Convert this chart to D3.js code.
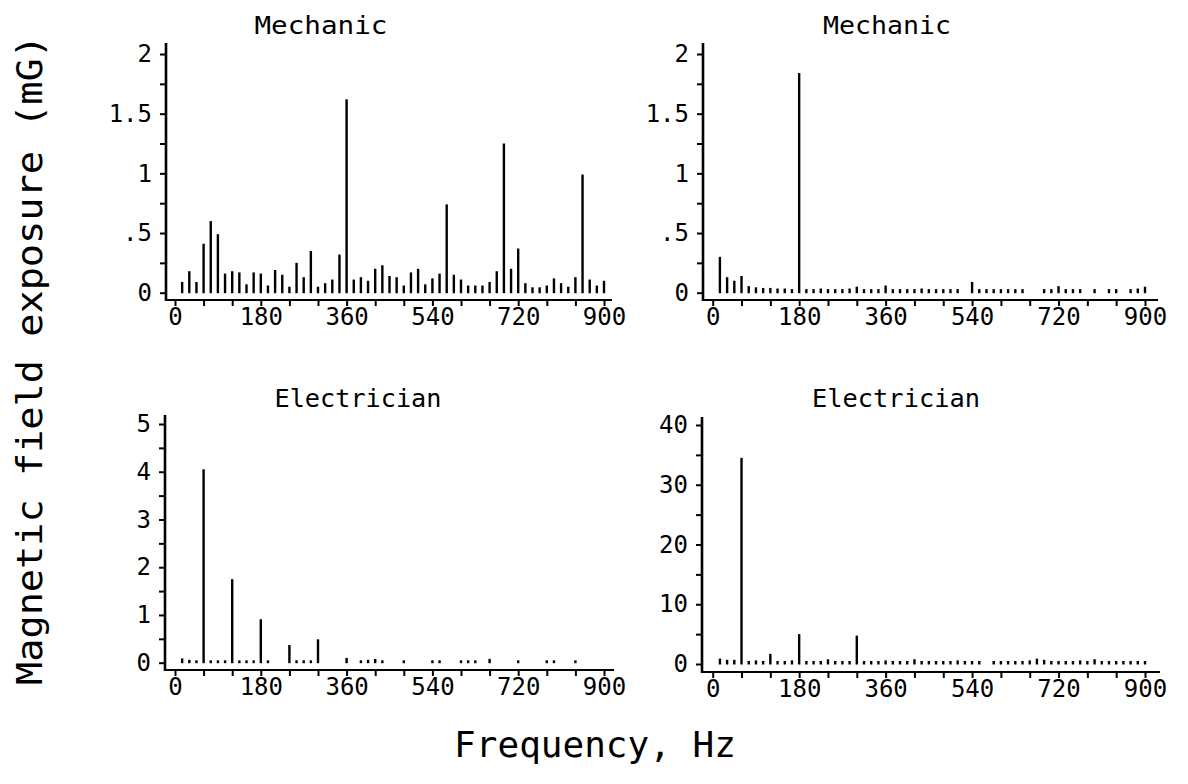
<!DOCTYPE html>
<html><head><meta charset="utf-8">
<script src="https://cdn.jsdelivr.net/npm/d3@7"></script>
<style>
html,body{margin:0;padding:0;background:#fff;}
svg text{font-family:"DejaVu Sans Mono",monospace;fill:#000;}
</style></head><body>
<svg id="c" width="1188" height="784"></svg>
<script>
// ---------------- DATA ----------------
const mechanicA_freq = [15,30,45,60,75,90,105,120,135,150,165,180,195,210,225,240,255,270,285,300,
  315,330,345,360,375,390,405,420,435,450,465,480,495,510,525,540,555,570,585,600,
  615,630,645,660,675,690,705,720,735,750,765,780,795,810,825,840,855,870,885,900];
const mechanicA_val = [0.09,0.18,0.09,0.41,0.60,0.49,0.16,0.18,0.17,0.07,0.17,0.16,0.06,0.19,0.15,0.05,0.25,0.13,0.35,0.05,
  0.08,0.11,0.32,1.62,0.11,0.13,0.10,0.20,0.23,0.14,0.13,0.06,0.17,0.20,0.07,0.12,0.16,0.74,0.15,0.11,
  0.06,0.06,0.06,0.09,0.18,1.25,0.20,0.37,0.08,0.045,0.045,0.06,0.12,0.08,0.05,0.13,0.99,0.11,0.06,0.10];

const mechanicB_freq = [15,30,45,60,75,90,105,120,135,150,165,180,195,210,225,240,255,270,285,300,
  315,330,345,360,375,390,405,420,435,450,465,480,495,510,540,555,570,585,600,615,630,645,
  690,705,720,735,750,765,795,825,840,870,885,900];
const mechanicB_val = [0.30,0.13,0.10,0.14,0.055,0.045,0.04,0.04,0.035,0.035,0.03,1.84,0.03,0.03,0.035,0.03,0.03,0.03,0.035,0.05,
  0.03,0.03,0.03,0.06,0.03,0.03,0.03,0.03,0.035,0.03,0.03,0.03,0.03,0.03,0.09,0.03,0.03,0.03,0.03,0.03,0.03,0.03,
  0.03,0.03,0.055,0.03,0.03,0.03,0.03,0.03,0.03,0.03,0.035,0.05];

const electricianA_freq = [15,30,45,60,75,90,105,120,135,150,165,180,195,240,255,270,285,300,360,390,405,420,435,
  480,540,555,600,615,630,660,720,780,795,840];
const electricianA_val = [0.09,0.06,0.05,4.05,0.05,0.05,0.05,1.75,0.05,0.05,0.05,0.91,0.05,0.37,0.05,0.05,0.05,0.49,0.10,0.05,0.06,0.08,0.05,
  0.05,0.05,0.05,0.05,0.05,0.05,0.08,0.05,0.05,0.05,0.05];

const electricianB_freq = [15,30,45,60,75,90,105,120,135,150,165,180,195,210,225,240,255,270,285,300,
  315,330,345,360,375,390,405,420,435,450,465,480,495,510,525,540,555,585,600,
  615,630,645,660,675,690,705,720,735,750,765,780,795,810,825,840,855,870,885,900];
const electricianB_val = [0.9,0.7,0.7,34.5,0.5,0.6,0.5,1.7,0.5,0.5,0.6,5.0,0.5,0.5,0.5,0.8,0.5,0.5,0.5,4.75,
  0.5,0.5,0.5,0.6,0.5,0.5,0.5,0.8,0.5,0.5,0.5,0.5,0.5,0.6,0.5,0.5,0.5,0.5,0.5,
  0.5,0.5,0.5,0.6,0.9,0.7,0.5,0.5,0.5,0.5,0.6,0.5,0.8,0.5,0.5,0.5,0.5,0.5,0.5,0.5];

const xTicks = [0,60,120,180,240,300,360,420,480,540,600,660,720,780,840,900];
const xTickLabels = {0:"0",180:"180",360:"360",540:"540",720:"720",900:"900"};

const yTicksMech = [0,0.25,0.5,0.75,1,1.25,1.5,1.75,2];
const yLabelsMech = {0:"0",0.5:".5",1:"1",1.5:"1.5",2:"2"};
const yTicksElecA = [0,0.5,1,1.5,2,2.5,3,3.5,4,4.5,5];
const yLabelsElecA = {0:"0",1:"1",2:"2",3:"3",4:"4",5:"5"};
const yTicksElecB = [0,5,10,15,20,25,30,35,40];
const yLabelsElecB = {0:"0",10:"10",20:"20",30:"30",40:"40"};

const titles = ["Mechanic","Mechanic","Electrician","Electrician"];
const xAxisTitle = "Frequency, Hz";
const yAxisTitle = "Magnetic field exposure (mG)";

// ---------------- LAYOUT ----------------
const panels = [
  {title:titles[0], freq:mechanicA_freq, val:mechanicA_val, yMax:2, yTicks:yTicksMech, yLabels:yLabelsMech,
   xr:[175,604], yr:[292.7,54], axisX:166, axisTop:43, base:300, right:612, tx:321, ty:34, tl:133},
  {title:titles[1], freq:mechanicB_freq, val:mechanicB_val, yMax:2, yTicks:yTicksMech, yLabels:yLabelsMech,
   xr:[712.7,1145], yr:[292.7,54], axisX:703, axisTop:43, base:300, right:1158, tx:887, ty:34, tl:128},
  {title:titles[2], freq:electricianA_freq, val:electricianA_val, yMax:5, yTicks:yTicksElecA, yLabels:yLabelsElecA,
   xr:[175,604], yr:[662.7,424], axisX:165, axisTop:415, base:670, right:614, tx:358, ty:407, tl:167},
  {title:titles[3], freq:electricianB_freq, val:electricianB_val, yMax:40, yTicks:yTicksElecB, yLabels:yLabelsElecB,
   xr:[712.7,1145], yr:[664,425], axisX:702, axisTop:417, base:672, right:1160, tx:896, ty:407, tl:168}
];

const svg = d3.select("#c");

panels.forEach(p => {
  const x = d3.scaleLinear().domain([0,900]).range(p.xr);
  const y = d3.scaleLinear().domain([0,p.yMax]).range(p.yr);
  const g = svg.append("g");

  // bars
  g.selectAll("line.bar").data(p.freq.map((f,i)=>({f, v:p.val[i]}))).join("line")
    .attr("class","bar")
    .attr("x1", d=>x(d.f)).attr("x2", d=>x(d.f))
    .attr("y1", y(0)+0.5).attr("y2", d=>y(d.v))
    .attr("stroke","#000").attr("stroke-width",2.4);

  // x axis
  const xa = g.append("g").attr("transform",`translate(0,${p.base})`)
    .call(d3.axisBottom(x).tickValues(xTicks).tickSize(6).tickPadding(2)
      .tickFormat(d => xTickLabels[d] !== undefined ? xTickLabels[d] : ""));
  xa.select(".domain").remove();
  xa.selectAll("line").attr("stroke","#000").attr("stroke-width",2);
  xa.selectAll("text").attr("font-size",24).attr("font-family","DejaVu Sans Mono").attr("fill","#000");
  g.append("line").attr("x1",p.axisX).attr("x2",p.right).attr("y1",p.base).attr("y2",p.base)
    .attr("stroke","#000").attr("stroke-width",2.2);

  // y axis
  const ya = g.append("g").attr("transform",`translate(${p.axisX},0)`)
    .call(d3.axisLeft(y).tickValues(p.yTicks).tickSize(6).tickPadding(8)
      .tickFormat(d => p.yLabels[d] !== undefined ? p.yLabels[d] : ""));
  ya.select(".domain").remove();
  ya.selectAll("line").attr("stroke","#000").attr("stroke-width",2);
  ya.selectAll("text").attr("font-size",24).attr("font-family","DejaVu Sans Mono").attr("fill","#000");
  g.append("line").attr("x1",p.axisX).attr("x2",p.axisX).attr("y1",p.axisTop).attr("y2",p.base+1)
    .attr("stroke","#000").attr("stroke-width",2.6);

  // title
  g.append("text").attr("x",p.tx).attr("y",p.ty).attr("text-anchor","middle")
    .attr("font-size",25).attr("textLength",p.tl).attr("lengthAdjust","spacingAndGlyphs")
    .text(p.title);
});

svg.append("text").attr("x",595).attr("y",757).attr("text-anchor","middle")
  .attr("font-size",36).text(xAxisTitle);
svg.append("text").attr("transform","translate(42,360) rotate(-90)").attr("text-anchor","middle")
  .attr("font-size",36).attr("textLength",650).attr("lengthAdjust","spacingAndGlyphs").text(yAxisTitle);
</script>
</body></html>
